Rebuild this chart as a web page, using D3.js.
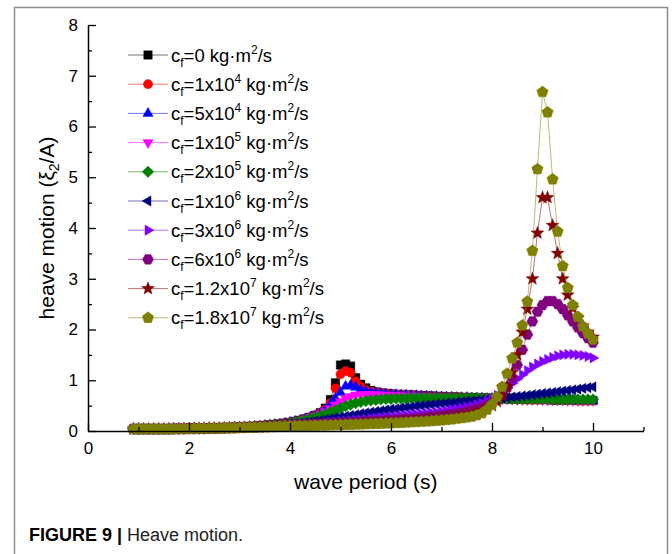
<!DOCTYPE html>
<html><head><meta charset="utf-8">
<script src="https://cdn.jsdelivr.net/npm/d3@7"></script>
<style>body{margin:0;background:#fff} svg{display:block} text{font-family:"Liberation Sans",Arial,sans-serif}</style>
</head><body><svg id="c" width="672" height="554"></svg>
<script>
// ---------------- DATA ----------------
const periods = [0.9,1.0,1.1,1.2,1.3,1.4,1.5,1.6,1.7,1.8,1.9,
2.0,2.1,2.2,2.3,2.4,2.5,2.6,2.7,2.8,2.9,
3.0,3.1,3.2,3.3,3.4,3.5,3.6,3.7,3.8,3.9,
4.0,4.1,4.2,4.3,4.4,4.5,4.6,4.7,4.8,4.9,
5.0,5.1,5.2,5.3,5.4,5.5,5.6,5.7,5.8,5.9,
6.0,6.1,6.2,6.3,6.4,6.5,6.6,6.7,6.8,6.9,
7.0,7.1,7.2,7.3,7.4,7.5,7.6,7.7,7.8,7.9,
8.0,8.1,8.2,8.3,8.4,8.5,8.6,8.7,8.8,8.9,
9.0,9.1,9.2,9.3,9.4,9.5,9.6,9.7,9.8,9.9,
10.0];

const cf0 = [0.04,0.04,0.04,0.04,0.04,0.04,0.04,0.04,0.045,0.045,0.045,
0.05,0.05,0.05,0.05,0.055,0.055,0.06,0.06,0.065,0.07,
0.075,0.08,0.085,0.09,0.1,0.11,0.12,0.13,0.14,0.155,
0.17,0.19,0.21,0.24,0.27,0.31,0.36,0.45,0.62,0.95,
1.3,1.32,1.28,1.05,0.92,0.85,0.8,0.77,0.75,0.74,
0.73,0.72,0.72,0.71,0.71,0.7,0.7,0.69,0.69,0.68,
0.68,0.67,0.67,0.67,0.66,0.66,0.66,0.65,0.65,0.65,
0.64,0.64,0.64,0.63,0.63,0.63,0.63,0.62,0.62,0.62,
0.62,0.62,0.61,0.61,0.61,0.61,0.61,0.6,0.6,0.6,
0.6];

const cf1e4 = [0.04,0.04,0.04,0.04,0.04,0.04,0.04,0.04,0.045,0.045,0.045,
0.05,0.05,0.05,0.05,0.055,0.055,0.06,0.06,0.065,0.07,
0.075,0.08,0.085,0.09,0.1,0.11,0.12,0.13,0.14,0.155,
0.17,0.19,0.21,0.24,0.27,0.31,0.36,0.43,0.55,0.84,
1.12,1.18,1.15,0.98,0.87,0.81,0.78,0.76,0.75,0.74,
0.73,0.72,0.72,0.71,0.71,0.7,0.7,0.69,0.69,0.68,
0.68,0.67,0.67,0.67,0.66,0.66,0.66,0.65,0.65,0.65,
0.64,0.64,0.64,0.63,0.63,0.63,0.63,0.62,0.62,0.62,
0.62,0.62,0.61,0.61,0.61,0.61,0.61,0.6,0.6,0.6,
0.6];

const cf5e4 = [0.04,0.04,0.04,0.04,0.04,0.04,0.04,0.04,0.045,0.045,0.045,
0.05,0.05,0.05,0.05,0.055,0.055,0.06,0.06,0.065,0.07,
0.075,0.08,0.085,0.09,0.1,0.11,0.12,0.13,0.14,0.155,
0.17,0.19,0.21,0.24,0.27,0.3,0.35,0.42,0.52,0.64,
0.76,0.88,0.9,0.86,0.81,0.78,0.76,0.75,0.74,0.73,
0.72,0.72,0.71,0.71,0.7,0.7,0.69,0.69,0.68,0.68,
0.67,0.67,0.67,0.66,0.66,0.66,0.65,0.65,0.65,0.64,
0.64,0.64,0.63,0.63,0.63,0.63,0.62,0.62,0.62,0.62,
0.62,0.61,0.61,0.61,0.61,0.61,0.6,0.6,0.6,0.6,
0.6];

const cf1e5 = [0.04,0.04,0.04,0.04,0.04,0.04,0.04,0.04,0.045,0.045,0.045,
0.05,0.05,0.05,0.05,0.055,0.055,0.06,0.06,0.065,0.07,
0.075,0.08,0.085,0.09,0.1,0.105,0.115,0.125,0.135,0.145,
0.16,0.18,0.2,0.23,0.26,0.29,0.33,0.38,0.44,0.51,
0.58,0.64,0.68,0.71,0.72,0.72,0.72,0.72,0.71,0.71,
0.7,0.7,0.7,0.69,0.69,0.69,0.68,0.68,0.68,0.67,
0.67,0.67,0.66,0.66,0.66,0.65,0.65,0.65,0.64,0.64,
0.64,0.63,0.63,0.63,0.63,0.62,0.62,0.62,0.62,0.62,
0.61,0.61,0.61,0.61,0.61,0.6,0.6,0.6,0.6,0.6,
0.6];

const cf2e5 = [0.04,0.04,0.04,0.04,0.04,0.04,0.04,0.04,0.045,0.045,0.045,
0.05,0.05,0.05,0.05,0.055,0.055,0.06,0.06,0.065,0.07,
0.075,0.08,0.085,0.09,0.095,0.1,0.11,0.12,0.125,0.135,
0.15,0.17,0.19,0.21,0.24,0.27,0.3,0.33,0.37,0.41,
0.45,0.49,0.52,0.55,0.57,0.59,0.6,0.61,0.62,0.63,
0.63,0.64,0.64,0.64,0.65,0.65,0.65,0.65,0.65,0.65,
0.65,0.65,0.65,0.65,0.65,0.65,0.65,0.65,0.64,0.64,
0.64,0.64,0.64,0.64,0.63,0.63,0.63,0.63,0.63,0.63,
0.63,0.63,0.62,0.62,0.62,0.62,0.62,0.62,0.62,0.62,
0.62];

const cf1e6 = [0.04,0.04,0.04,0.04,0.04,0.04,0.04,0.04,0.045,0.045,0.045,
0.05,0.05,0.05,0.05,0.055,0.055,0.06,0.06,0.065,0.07,
0.07,0.075,0.08,0.085,0.09,0.095,0.1,0.11,0.115,0.125,
0.135,0.145,0.155,0.17,0.18,0.195,0.21,0.225,0.24,0.26,
0.275,0.29,0.305,0.32,0.34,0.355,0.37,0.385,0.4,0.415,
0.43,0.44,0.455,0.465,0.475,0.49,0.5,0.51,0.52,0.53,
0.54,0.55,0.555,0.565,0.575,0.585,0.59,0.6,0.61,0.62,
0.63,0.64,0.65,0.66,0.67,0.68,0.69,0.7,0.715,0.725,
0.74,0.75,0.76,0.775,0.785,0.8,0.81,0.825,0.84,0.855,
0.87];

const cf3e6 = [0.04,0.04,0.04,0.04,0.04,0.04,0.04,0.04,0.045,0.045,0.045,
0.05,0.05,0.05,0.05,0.055,0.055,0.06,0.06,0.065,0.07,
0.07,0.075,0.08,0.08,0.085,0.09,0.095,0.1,0.105,0.11,
0.115,0.12,0.13,0.135,0.14,0.15,0.155,0.165,0.17,0.18,
0.19,0.195,0.205,0.215,0.22,0.23,0.24,0.25,0.26,0.27,
0.28,0.29,0.3,0.31,0.32,0.33,0.34,0.35,0.36,0.37,
0.385,0.4,0.415,0.43,0.45,0.47,0.49,0.52,0.55,0.59,
0.64,0.7,0.77,0.85,0.94,1.03,1.11,1.19,1.26,1.32,
1.37,1.41,1.45,1.48,1.5,1.51,1.51,1.5,1.49,1.47,
1.44];

const cf6e6 = [0.04,0.04,0.04,0.04,0.04,0.04,0.04,0.04,0.045,0.045,0.045,
0.05,0.05,0.05,0.05,0.055,0.055,0.055,0.06,0.06,0.065,
0.07,0.07,0.075,0.075,0.08,0.085,0.09,0.095,0.1,0.105,
0.11,0.113,0.117,0.12,0.125,0.13,0.134,0.138,0.142,0.147,
0.152,0.157,0.162,0.167,0.172,0.178,0.184,0.19,0.196,0.203,
0.21,0.217,0.224,0.232,0.24,0.25,0.26,0.27,0.28,0.29,
0.3,0.315,0.33,0.345,0.36,0.38,0.4,0.43,0.46,0.5,
0.55,0.62,0.72,0.86,1.05,1.3,1.6,1.9,2.16,2.35,
2.48,2.56,2.56,2.5,2.4,2.28,2.16,2.04,1.93,1.83,
1.74];

const cf12e6 = [0.04,0.04,0.04,0.04,0.04,0.04,0.04,0.04,0.04,0.045,0.045,
0.045,0.05,0.05,0.05,0.055,0.055,0.055,0.06,0.06,0.065,
0.065,0.07,0.07,0.075,0.075,0.08,0.085,0.09,0.095,0.1,
0.102,0.105,0.108,0.111,0.114,0.117,0.12,0.123,0.126,0.13,
0.133,0.137,0.14,0.144,0.148,0.152,0.156,0.16,0.165,0.17,
0.175,0.18,0.186,0.192,0.198,0.205,0.212,0.22,0.228,0.237,
0.247,0.258,0.27,0.284,0.3,0.318,0.34,0.365,0.4,0.44,
0.5,0.58,0.7,0.88,1.15,1.5,1.95,2.4,3.0,3.9,
4.6,4.6,4.05,3.5,3.0,2.68,2.42,2.22,2.07,1.95,
1.85];

const cf18e6 = [0.04,0.04,0.04,0.04,0.04,0.04,0.04,0.04,0.04,0.04,0.045,
0.045,0.045,0.05,0.05,0.05,0.055,0.055,0.055,0.06,0.06,
0.065,0.065,0.07,0.07,0.075,0.075,0.08,0.085,0.09,0.092,
0.095,0.097,0.1,0.102,0.105,0.107,0.11,0.112,0.115,0.118,
0.12,0.123,0.126,0.129,0.132,0.135,0.138,0.142,0.146,0.15,
0.154,0.158,0.162,0.167,0.172,0.177,0.183,0.189,0.196,0.203,
0.211,0.22,0.23,0.241,0.254,0.268,0.285,0.31,0.35,0.42,
0.52,0.67,0.87,1.13,1.43,1.74,2.08,2.55,3.55,5.16,
6.68,6.28,4.96,3.93,3.25,2.82,2.48,2.25,2.06,1.92,
1.8];

const mantissas = ["0","1","5","1","2","1","3","6","1.2","1.8"];
const exponents = [null,"4","4","5","5","6","6","6","7","7"];
const colors = ["#000000","#ff0000","#0000ff","#ff00ff","#008000","#000080","#8000ff","#800080","#800000","#808000"];
const shapes = ["square","circle","triangleUp","triangleDown","diamond","triangleLeft","triangleRight","hexagon","star","pentagon"];
const seriesValues = [cf0,cf1e4,cf5e4,cf1e5,cf2e5,cf1e6,cf3e6,cf6e6,cf12e6,cf18e6];

const xMajor = [0,2,4,6,8,10];
const xMinor = [1,3,5,7,9,11];
const yMajor = [0,1,2,3,4,5,6,7,8];
const yMinor = [0.5,1.5,2.5,3.5,4.5,5.5,6.5,7.5];

// ---------------- DRAW ----------------
const FONT = '"Liberation Sans", Arial, sans-serif';
const svg = d3.select("#c");
const x = d3.scaleLinear().domain([0,11]).range([88,643.5]);
const y = d3.scaleLinear().domain([0,8]).range([431,25]);

// outer frame
svg.append("rect").attr("x",14.5).attr("y",7.5).attr("width",653).attr("height",620)
  .attr("fill","none").attr("stroke","#8c8c8c").attr("stroke-width",1.5);

function polyPath(n, r, rot){
  const pts=[];
  for(let k=0;k<n;k++){const a=rot+2*Math.PI*k/n; pts.push([r*Math.sin(a), -r*Math.cos(a)]);}
  return "M"+pts.map(p=>p[0].toFixed(2)+","+p[1].toFixed(2)).join("L")+"Z";
}
function starPath(r, ri){
  const pts=[];
  for(let k=0;k<10;k++){const a=Math.PI*k/5; const rr=k%2?ri:r; pts.push([rr*Math.sin(a), -rr*Math.cos(a)]);}
  return "M"+pts.map(p=>p[0].toFixed(2)+","+p[1].toFixed(2)).join("L")+"Z";
}
const shapePath = {
  square: polyPath(4, 6.0, Math.PI/4),
  circle: d3.symbol(d3.symbolCircle, Math.PI*4.6*4.6)(),
  triangleUp: polyPath(3, 6.0, 0),
  triangleDown: polyPath(3, 6.0, Math.PI),
  diamond: polyPath(4, 5.8, 0),
  triangleLeft: polyPath(3, 6.0, -Math.PI/2),
  triangleRight: polyPath(3, 6.0, Math.PI/2),
  hexagon: polyPath(6, 5.6, Math.PI/6),
  star: starPath(6.8, 2.9),
  pentagon: polyPath(5, 6.0, 0)
};

const line = d3.line().x(d=>x(d[0])).y(d=>y(d[1]));
const plot = svg.append("g");
seriesValues.forEach((vals,i)=>{
  const pts = periods.map((p,j)=>[p, vals[j]]);
  const g = plot.append("g");
  g.append("path").attr("d", line(pts)).attr("fill","none")
    .attr("stroke", colors[i]).attr("stroke-opacity",0.55).attr("stroke-width",1);
  g.selectAll("path.m").data(pts).enter().append("path").attr("class","m")
    .attr("d", shapePath[shapes[i]])
    .attr("transform", d=>`translate(${x(d[0])},${y(d[1])})`)
    .attr("fill", colors[i]).attr("stroke", colors[i]).attr("stroke-width",0.4);
});

// axes
function styleAxis(g){
  g.selectAll("text").attr("font-family",FONT).attr("font-size",17).attr("fill","#000");
  g.selectAll(".tick line").attr("stroke","#000").attr("stroke-width",1.3);
}
const gxMin = svg.append("g").attr("transform","translate(0,431)")
  .call(d3.axisBottom(x).tickValues(xMinor).tickSize(-4).tickSizeOuter(0).tickFormat(""));
gxMin.select(".domain").remove(); styleAxis(gxMin);
const gx = svg.append("g").attr("transform","translate(0,431)")
  .call(d3.axisBottom(x).tickValues(xMajor).tickSize(-8).tickSizeOuter(0).tickPadding(11).tickFormat(d3.format("d")));
gx.select(".domain").attr("stroke","#000").attr("stroke-width",1.5);
styleAxis(gx);

const gyMin = svg.append("g").attr("transform","translate(88,0)")
  .call(d3.axisLeft(y).tickValues(yMinor).tickSize(-4).tickSizeOuter(0).tickFormat(""));
gyMin.select(".domain").remove(); styleAxis(gyMin);
const gy = svg.append("g").attr("transform","translate(88,0)")
  .call(d3.axisLeft(y).tickValues(yMajor).tickSize(-8).tickSizeOuter(0).tickPadding(10).tickFormat(d3.format("d")));
gy.select(".domain").attr("stroke","#000").attr("stroke-width",1.5);
styleAxis(gy);

// axis titles
svg.append("text").attr("x", (x(0)+x(11))/2).attr("y", 489).attr("text-anchor","middle")
  .attr("font-family",FONT).attr("font-size",21).text("wave period (s)");
const yl = svg.append("text").attr("transform",`translate(54,${(y(0)+y(8))/2}) rotate(-90)`)
  .attr("text-anchor","middle").attr("font-family",FONT).attr("font-size",21);
yl.append("tspan").text("heave motion (ξ");
yl.append("tspan").attr("font-size",14).attr("dy",5).text("2");
yl.append("tspan").attr("dy",-5).text("/A)");

// legend
const leg = svg.append("g");
mantissas.forEach((m,i)=>{
  const ly = 55 + i*29.2;
  leg.append("line").attr("x1",128).attr("x2",168).attr("y1",ly).attr("y2",ly)
    .attr("stroke",colors[i]).attr("stroke-opacity",0.55).attr("stroke-width",1);
  leg.append("path").attr("d",shapePath[shapes[i]]).attr("transform",`translate(148,${ly})`)
    .attr("fill",colors[i]).attr("stroke",colors[i]).attr("stroke-width",0.4);
  const t = leg.append("text").attr("x",171).attr("y",ly+6.5).attr("font-family",FONT).attr("font-size",18.5);
  t.append("tspan").text("c");
  t.append("tspan").attr("font-size",12).attr("dy",5).text("f");
  if(exponents[i]===null){
    t.append("tspan").attr("dy",-5).text("="+m+" kg·m");
  } else {
    t.append("tspan").attr("dy",-5).text("="+m+"x10");
    t.append("tspan").attr("font-size",12).attr("dy",-8).text(exponents[i]);
    t.append("tspan").attr("dy",8).text(" kg·m");
  }
  t.append("tspan").attr("font-size",12).attr("dy",-8).text("2");
  t.append("tspan").attr("dy",8).text("/s");
});

// caption
const cap = svg.append("text").attr("x",29).attr("y",541).attr("font-family",FONT).attr("font-size",18);
cap.append("tspan").attr("font-weight","bold").text("FIGURE 9 | ");
cap.append("tspan").attr("fill","#222").text("Heave motion.");
</script></body></html>
